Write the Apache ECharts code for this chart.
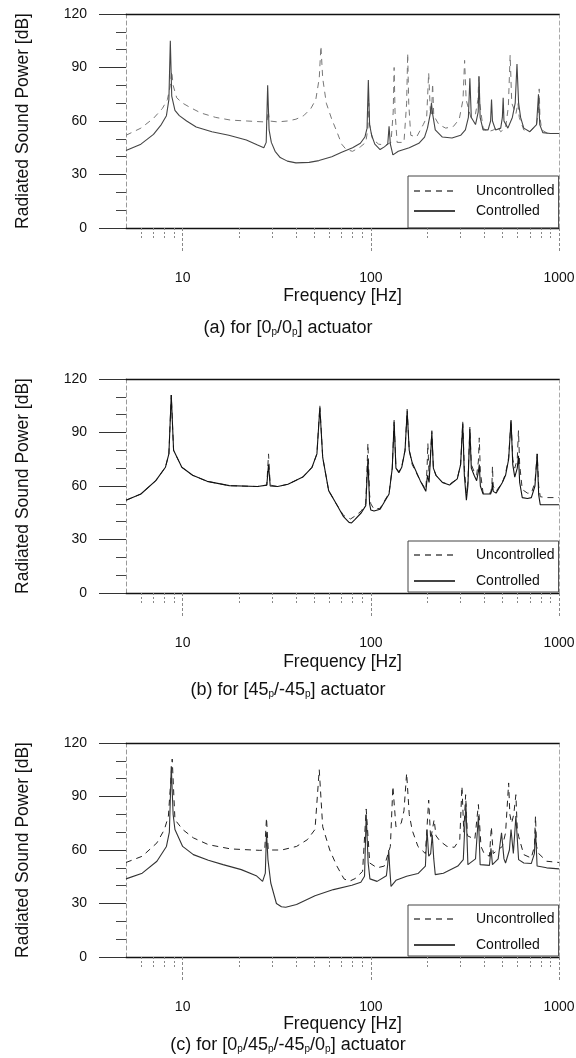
<!DOCTYPE html>
<html><head><meta charset="utf-8">
<script src="https://cdn.jsdelivr.net/npm/echarts/dist/echarts.min.js"></script>
<style>html,body{margin:0;padding:0;background:#fff}#c{width:576px;height:1058px}</style>
</head><body><div id="c"></div>
<script>
// ---------- data ----------
const xTickLabels = [10, 100, 1000];
const minorFreqs = [6,7,8,9,20,30,40,50,60,70,80,90,200,300,400,500,600,700,800,900];
const seriesNames = ['Uncontrolled', 'Controlled'];
const captions = [
  '(a) for [0{s|p}/0{s|p}] actuator',
  '(b) for [45{s|p}/-45{s|p}] actuator',
  '(c) for [0{s|p}/45{s|p}/-45{s|p}/0{s|p}] actuator'
];

const aUncontrolled = [[5,52],[6,56],[7,61.5],[7.8,67],[8.3,72],[8.6,80],[8.75,88],[8.9,80],[9.3,73],[10,70],[11,67.5],[12.5,64.5],[15,62],[18,60.5],[22,60],[27,59.5],[28.1,60],[28.5,66],[28.9,60],[32,59.5],[36,60],[40,61],[44,63],[48,67],[51,72],[53.2,84],[54.3,102],[55.5,84],[58,70],[62,61],[66,54],[70,47],[74,44],[80,43],[88,45.5],[94,48],[96.5,56],[97.5,70],[98.5,58],[102,50],[110,47],[120,46.5],[128,48],[131.5,65],[133,90],[134.5,65],[138,48],[150,48],[155,70],[157,98],[159,70],[163,52],[175,51],[190,58],[198,62],[203,87],[207,66],[210,63],[213,81],[216,63],[230,58],[250,56],[275,57],[295,61],[309,72],[315,94],[321,72],[340,62],[360,64],[371,72],[375,85],[379,70],[395,56],[420,54],[450,55],[470,57],[490,54],[520,56],[538,68],[550,97],[561,70],[590,64],[605,70],[615,62],[650,55],[700,54],[760,58],[778,66],[785,78],[792,62],[810,55],[870,53],[1000,53]];
const aControlled = [[5,43.5],[6,47],[7,52.5],[7.7,58],[8.2,63],[8.45,72],[8.6,105],[8.75,74],[9.1,66],[9.6,63],[10.5,60],[11.8,56.6],[14.3,54],[17.6,52],[21.8,49.3],[25,46.5],[27,45],[27.8,48],[28.3,80],[28.8,55],[29.6,48],[31,43],[33,39.5],[36,37.5],[40,36.5],[47,36.8],[53,37.8],[62,40],[70,42.5],[80,45],[88,47.5],[93,51],[95.5,56],[97,83],[98.5,58],[101,52],[105,47],[112,44],[118,45.5],[123,47],[125,57],[127,47],[131,41],[140,43],[160,45],[180,47.5],[193,51],[200,56],[207,64],[210,70],[213,64],[220,55],[240,51],[270,50.5],[300,52],[318,55],[330,62],[336,84],[342,62],[360,58],[372,65],[376,85],[381,62],[395,55],[420,55],[433,60],[438,72],[443,60],[460,55],[490,56],[500,62],[505,73],[510,60],[535,56],[565,62],[585,70],[598,92],[610,70],[625,62],[650,56],[700,54],[760,58],[778,75],[790,58],[820,53.5],[900,53],[1000,53]];

const bUncontrolled = [[5,52],[6,55.5],[7.2,63],[8.1,70.5],[8.45,78],[8.7,111],[8.95,80],[9.9,70.5],[11.3,66],[13.5,62.6],[17.7,60.2],[25,59.7],[28,60.5],[28.6,78],[29.2,60.5],[32,59.7],[36.3,61],[43.5,65],[48.7,70.5],[51.7,78],[53.6,105],[55.5,76],[59.7,57.4],[65.5,50],[71.6,43.5],[78,41.5],[82,43],[89,46],[94,50],[96.5,84],[98.5,55],[100,50],[104,47],[112,47.5],[125,56],[130,70],[133,97],[136,70],[141,68],[146,71],[152,80],[156,103],[160,80],[166,72],[183,63],[196,58],[199,70],[201,84],[204,65],[208,64],[211,91],[215,70],[222,66],[240,62],[262,61],[288,64],[300,72],[308,96],[314,70],[322,56],[328,62],[336,93],[342,72],[354,68],[365,66],[373,74],[377,87],[382,68],[395,56],[433,56],[440,60],[443,71],[447,60],[463,57],[500,62],[520,67],[540,76],[556,97],[568,75],[582,70],[600,75],[609,91],[618,72],[638,58],[680,56],[713,56],[745,62],[766,78],[780,60],[795,54],[850,53.5],[1000,53.5]];
const bControlled = [[5,52],[6,55.5],[7.2,63],[8.1,70.5],[8.45,78],[8.7,111],[8.95,80],[9.9,70.5],[11.3,66],[13.5,62.6],[17.7,60.2],[25,59.7],[28,60.5],[28.6,72],[29.2,60],[32,59.7],[36.3,61],[43.5,65],[48.7,70.5],[51.7,78],[53.6,104],[55.5,76],[59.7,57.4],[65.5,50],[71.6,42.8],[76.6,39.6],[79,39.3],[82,41],[89,45],[94,49],[96.5,75],[98.5,50],[100,46.5],[104,46],[112,47],[125,55.5],[130,70],[133,96],[136,70],[141,67.5],[146,70.5],[152,80],[156,102],[160,80],[166,73],[183,63],[196,57],[200,66],[204,62],[208,63],[211,90],[215,70],[222,66],[240,62],[262,60.5],[288,64],[300,72],[308,95],[314,66],[322,52],[328,60],[336,92],[342,70],[354,66],[365,63],[373,68],[377,72],[382,60],[395,55.5],[433,55.5],[440,58],[443,62],[447,57],[463,56],[500,62],[520,66],[540,75],[556,97],[568,72],[582,65],[600,70],[609,77],[618,62],[638,53.5],[680,53],[713,53.5],[745,60],[766,78],[780,55],[795,49.5],[850,49.5],[1000,49.5]];

const cUncontrolled = [[5,53],[6.1,56.5],[7.3,64],[8,71.5],[8.4,79],[8.8,111],[9.1,77],[10,71.5],[11.4,66.8],[13.7,63],[18,60.6],[25.7,59.8],[27.3,60],[27.9,78],[28.5,60],[33.6,60],[40.3,62],[46,65.8],[50.5,71.5],[53.2,105],[55.5,73],[60.5,60],[66,51],[72,43.8],[77,42.5],[82.6,44],[90.4,48],[94.5,83],[98.7,52.7],[108,50],[118,51],[127,62],[131,95.7],[136,73],[145,75],[150,82],[155,103],[160,80],[166,71],[178,62],[195,58],[203,88],[208,66],[212,66],[217,77],[222,68],[233,65],[254,62],[278,61.5],[297,66],[305,95.7],[312,70],[319,91],[326,68],[357,66],[373,85.5],[385,62],[400,58],[427,56.5],[437,73],[447,58],[500,62],[520,69.6],[540,97.6],[548,80],[560,75],[575,80],[590,91],[600,72],[610,67.7],[650,57.4],[712,55.5],[740,62],[750,79],[760,62],[780,58],[860,53.7],[1000,53]];
const cControlled = [[5,43.8],[6.1,47],[7.3,53.7],[8.2,62],[8.5,70],[8.7,107],[8.9,80],[9.1,71.5],[10,62],[11.4,57.4],[13.7,54.2],[16.4,51.8],[20.5,49],[24.6,45.6],[26.6,42.4],[27.5,47],[27.9,70],[28.4,54.6],[29.4,41.5],[31.5,30],[33.5,28.2],[35.3,27.9],[40.3,29.4],[50.5,34.4],[63.3,37.8],[79.3,40.2],[88.5,41.9],[92.6,45.3],[94.5,80],[96.8,52.7],[98.9,43.8],[108,42.4],[121,45.6],[123,52],[124.5,60],[126,50],[128,39.6],[136,43],[155,45.3],[178,46.8],[195,51],[199,71.5],[203,56.5],[208,58],[212,68.6],[216,55],[220,46.2],[243,47],[290,51],[310,54.6],[320,86],[328,51.8],[360,55],[373,79],[381,51.8],[427,51.4],[435,61],[443,51.8],[475,55],[495,69.6],[510,55],[520,52.7],[545,60],[556,71.5],[572,58],[590,79],[610,54.6],[650,52.7],[712,52.4],[740,58],[750,71.5],[765,51],[860,50],[1000,49.4]];

// ---------- layout / style ----------
const FONT = '"Liberation Sans", Arial, Helvetica, sans-serif';
const panels = [
  {top: 14,  unc: aUncontrolled, ctl: aControlled, capY: 328, xNameGap: 59, legGap: 6,  legPad: [8,4,10,5], uncColor: '#777', ctlColor: '#444'},
  {top: 379, unc: bUncontrolled, ctl: bControlled, capY: 690, xNameGap: 60, legGap: 12, legPad: [7,4,4,5], uncColor: '#333', ctlColor: '#111'},
  {top: 743, unc: cUncontrolled, ctl: cControlled, capY: 1045, xNameGap: 57, legGap: 12, legPad: [7,4,4,5], uncColor: '#222', ctlColor: '#333'}
];

const option = {
  animation: false,
  backgroundColor: '#fff',
  textStyle: {fontFamily: FONT},
  grid: [], xAxis: [], yAxis: [], series: [], legend: [], graphic: []
};

panels.forEach((p, i) => {
  option.grid.push({left: 126, right: 17, top: p.top, height: 214, outerBoundsMode: 'none', containLabel: false});
  const base = {type: 'log', logBase: 10, gridIndex: i, min: 5, max: 1000, splitLine: {show: false}, minorTick: {show: false}};
  option.xAxis.push(Object.assign({}, base, {
    position: 'bottom',
    axisLine: {show: true, onZero: false, lineStyle: {color: '#111', width: 1.3}},
    axisTick: {show: true, customValues: xTickLabels, length: 25, lineStyle: {color: '#888', type: [3, 2]}},
    axisLabel: {show: true, customValues: xTickLabels, margin: 43, fontSize: 14, color: '#111', fontFamily: FONT,
      formatter: v => String(Math.round(v))},
    name: 'Frequency [Hz]', nameLocation: 'middle', nameGap: p.xNameGap,
    nameTextStyle: {fontSize: 17.5, color: '#111', fontFamily: FONT}
  }));
  option.xAxis.push(Object.assign({}, base, {
    position: 'bottom',
    axisLine: {show: false},
    axisTick: {show: true, customValues: minorFreqs, length: 10, lineStyle: {color: '#888', type: [2, 2]}},
    axisLabel: {show: false}
  }));
  option.xAxis.push(Object.assign({}, base, {
    position: 'top',
    axisLine: {show: true, onZero: false, lineStyle: {color: '#111', width: 1.3}},
    axisTick: {show: false}, axisLabel: {show: false}
  }));
  option.yAxis.push({
    type: 'value', gridIndex: i, min: 0, max: 120, interval: 30, position: 'left',
    axisLine: {show: true, onZero: false, lineStyle: {color: '#999', type: [4, 3]}},
    axisTick: {show: true, length: 27, lineStyle: {color: '#333'}},
    minorTick: {show: true, splitNumber: 3, length: 10, lineStyle: {color: '#444'}},
    axisLabel: {margin: 39, fontSize: 14, color: '#111', fontFamily: FONT},
    splitLine: {show: false},
    name: 'Radiated Sound Power [dB]', nameLocation: 'middle', nameGap: 94,
    nameTextStyle: {fontSize: 17.5, color: '#111', fontFamily: FONT}
  });
  option.yAxis.push({
    type: 'value', gridIndex: i, min: 0, max: 120, position: 'right',
    axisLine: {show: true, onZero: false, lineStyle: {color: '#aaa', type: [4, 3]}},
    axisTick: {show: false}, axisLabel: {show: false}, splitLine: {show: false}
  });
  option.series.push({
    type: 'line', name: seriesNames[0], xAxisIndex: 3 * i, yAxisIndex: 2 * i, data: p.unc,
    symbol: 'none', silent: true, z: 2,
    lineStyle: {color: p.uncColor, width: 1, type: [6, 5]}, itemStyle: {color: p.uncColor}
  });
  option.series.push({
    type: 'line', name: seriesNames[1], xAxisIndex: 3 * i, yAxisIndex: 2 * i, data: p.ctl,
    symbol: 'none', silent: true, z: 3,
    lineStyle: {color: p.ctlColor, width: 1.1}, itemStyle: {color: p.ctlColor}
  });
  option.legend.push({
    show: true, data: seriesNames, orient: 'vertical', left: 408, top: p.top + 162,
    itemWidth: 41, itemHeight: 14, itemGap: p.legGap, padding: p.legPad,
    borderColor: '#444', borderWidth: 1, selectedMode: false,
    itemStyle: {opacity: 0, color: 'rgba(0,0,0,0)', borderWidth: 0},
    textStyle: {fontSize: 14, color: '#111', fontFamily: FONT, padding: [0, 0, 0, 16]}
  });
  option.graphic.push({
    type: 'text', x: 288, y: p.capY, silent: true,
    style: {
      text: captions[i], align: 'center', verticalAlign: 'middle',
      fontSize: 18, fontFamily: FONT, fill: '#111',
      rich: {s: {fontSize: 10, fontFamily: FONT, fill: '#111', verticalAlign: 'bottom', padding: [8, 0, 0, 0]}}
    }
  });
});

const chart = echarts.init(document.getElementById('c'), null, {renderer: 'canvas'});
chart.setOption(option);
</script>
</body></html>
